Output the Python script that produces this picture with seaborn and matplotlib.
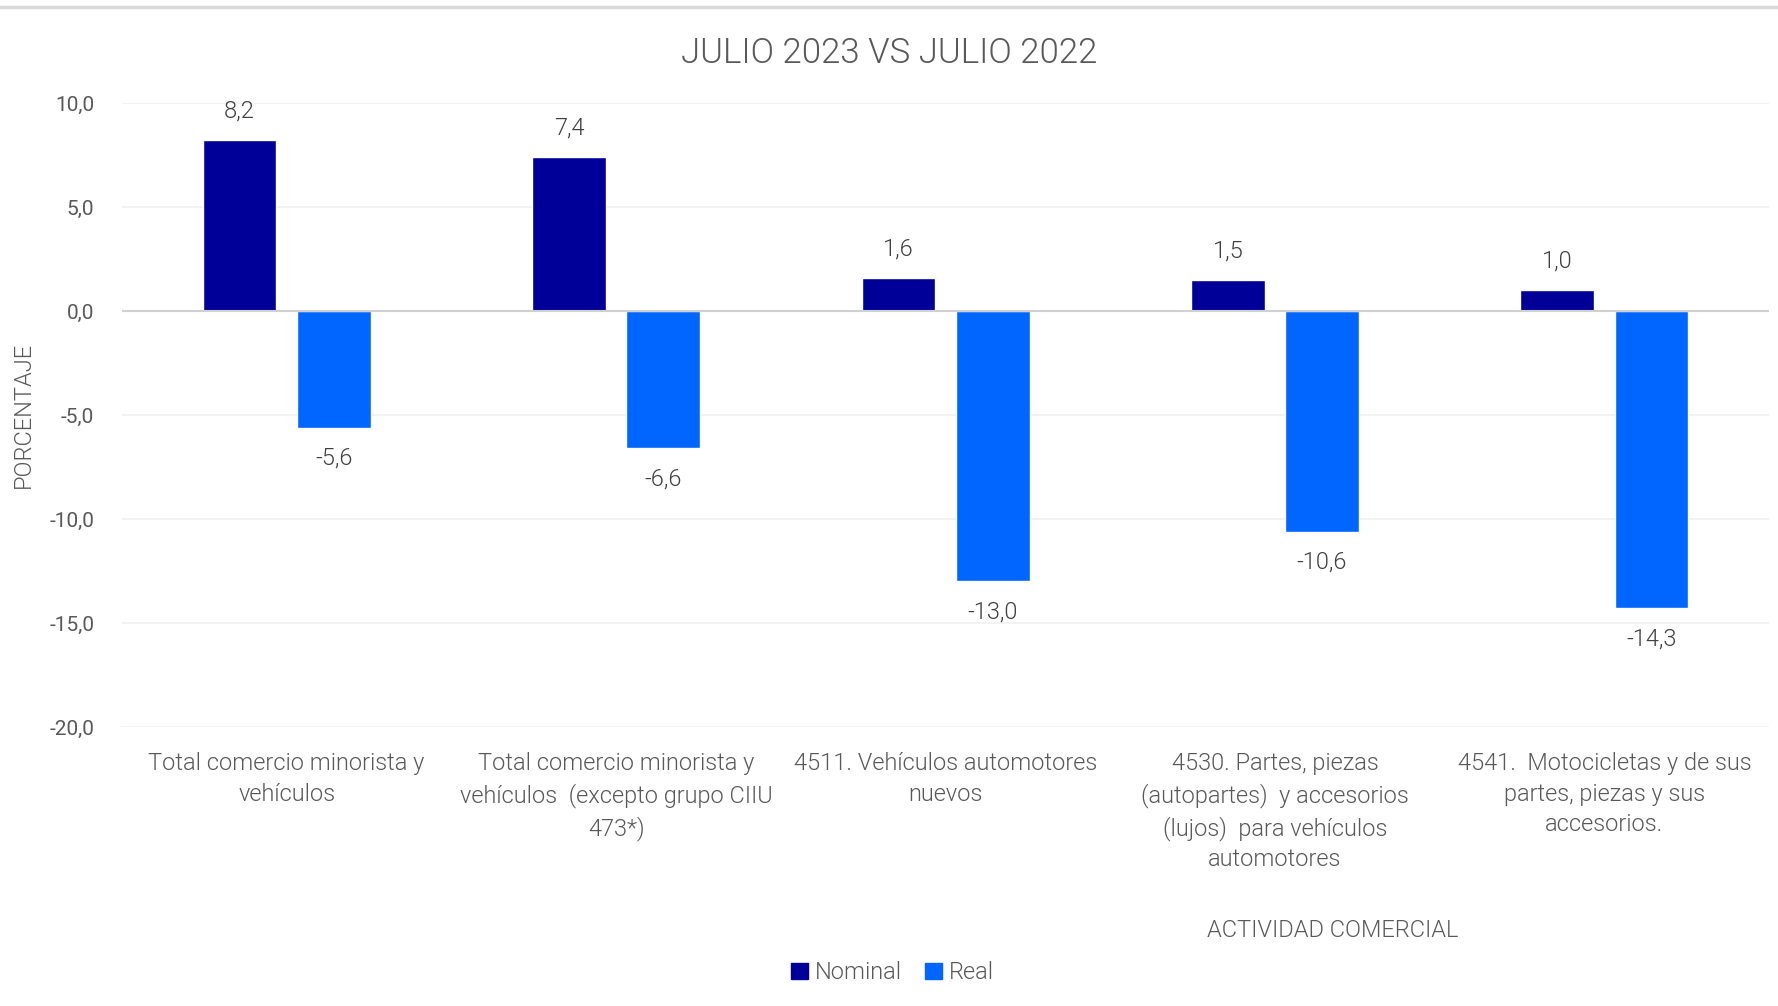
import matplotlib
matplotlib.use("Agg")
import matplotlib.pyplot as plt
import matplotlib.lines as mlines
import pandas as pd
import seaborn as sns

CATEGORIES = [
    "Total comercio minorista y\nvehículos",
    "Total comercio minorista y\nvehículos  (excepto grupo CIIU\n473*)",
    "4511. Vehículos automotores\nnuevos",
    "4530. Partes, piezas\n(autopartes)  y accesorios\n(lujos)  para vehículos\nautomotores",
    "4541.  Motocicletas y de sus\npartes, piezas y sus\naccesorios.",
]
NOMINAL = [8.2, 7.4, 1.6, 1.5, 1.0]
REAL = [-5.6, -6.6, -13.0, -10.6, -14.3]
SERIES = ["Nominal", "Real"]
YTICKS = [10, 5, 0, -5, -10, -15, -20]

df = pd.DataFrame({
    "cat": CATEGORIES * 2,
    "serie": ["Nominal"] * len(CATEGORIES) + ["Real"] * len(CATEGORIES),
    "valor": NOMINAL + REAL,
})

sns.set_theme(style="white")
plt.rcParams["font.family"] = ["Roboto", "DejaVu Sans"]
plt.rcParams["font.weight"] = 300
LIGHT = 300
GRAY = "#595959"

fig = plt.figure(figsize=(17.78, 10.06), dpi=100)
ax = fig.add_axes([0.0686, 0.2773, 0.9264, 0.6203])

palette = {"Nominal": "#000099", "Real": "#0066FF"}
sns.barplot(data=df, x="cat", y="valor", hue="serie", hue_order=SERIES,
            palette=palette, width=0.572, gap=0.217, saturation=1,
            ax=ax, legend=True, zorder=3)

ax.set_ylim(-20, 10)
ax.set_xlim(-0.5, len(CATEGORIES) - 0.5)
ax.set_yticks(YTICKS)
ax.set_yticklabels([f"{v:.1f}".replace(".", ",") for v in YTICKS],
                   fontsize=15, color=GRAY, fontweight="normal")
ax.grid(axis="y", color="#f0f0f0", linewidth=1.2, zorder=0)
ax.axhline(0, color="#d0d0d0", linewidth=1.5, zorder=4)
for s in ax.spines.values():
    s.set_visible(False)
ax.tick_params(axis="both", length=0)
ax.tick_params(axis="y", pad=20)
ax.tick_params(axis="x", pad=18)
for lbl in ax.get_xticklabels():
    lbl.set_fontsize(17)
    lbl.set_color(GRAY)
    lbl.set_fontweight(LIGHT)
    lbl.set_linespacing(1.42)

# data labels
for cont in ax.containers:
    for bar in cont:
        h = bar.get_height()
        x = bar.get_x() + bar.get_width() / 2
        off = 21 if h >= 0 else -22
        ax.annotate(f"{h:.1f}".replace(".", ","), (x, h),
                    xytext=(0, off), textcoords="offset points",
                    ha="center", va="center", fontsize=17, color="#404040",
                    fontweight=LIGHT)

ax.set_xlabel("ACTIVIDAD COMERCIAL", fontsize=17, color=GRAY, fontweight=LIGHT)
ax.xaxis.set_label_coords(0.735, -0.308)
ax.set_ylabel("PORCENTAJE", fontsize=17, color=GRAY, fontweight=LIGHT)
ax.yaxis.set_label_coords(-0.053, 0.5)
ax.set_title("JULIO 2023 VS JULIO 2022", fontsize=25, color=GRAY,
             fontweight=LIGHT, pad=29, x=0.4657)

ax.legend_.remove()
handles = [plt.Rectangle((0, 0), 1, 1, color=palette[s]) for s in SERIES]
fig.legend(handles, SERIES, loc="center", bbox_to_anchor=(0.502, 0.033),
           ncol=2, frameon=False, handlelength=0.7,
           handleheight=0.7, handletextpad=0.3, columnspacing=1.0,
           labelcolor=GRAY, prop={"size": 17, "weight": LIGHT})

fig.add_artist(mlines.Line2D([0, 1], [0.993, 0.993], color="#d9d9d9",
                             linewidth=2.5, transform=fig.transFigure))

fig.savefig("out.png", dpi=100)
